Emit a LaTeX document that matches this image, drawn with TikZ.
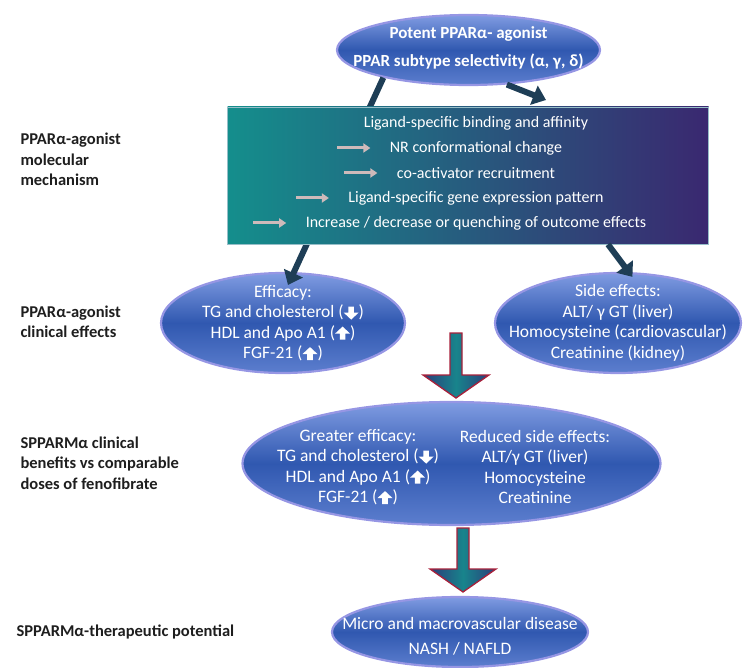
\documentclass[tikz,border=0pt]{standalone}
\usepackage{fontspec}
\setmainfont{Carlito}
\usetikzlibrary{arrows.meta,shapes.geometric,positioning}

\definecolor{bubtop}{RGB}{128,156,226}
\definecolor{bubmid}{RGB}{48,88,176}
\definecolor{bubbot}{RGB}{92,126,206}
\definecolor{bubrim}{RGB}{150,150,228}
\definecolor{mechL}{RGB}{20,142,140}
\definecolor{mechR}{RGB}{58,40,112}
\definecolor{arrdark}{RGB}{30,62,86}
\definecolor{arrgray}{RGB}{206,186,186}
\definecolor{blockrim}{RGB}{168,32,58}
\definecolor{blockmid}{RGB}{24,132,140}
\definecolor{blockedge}{RGB}{42,62,122}
\definecolor{labelgray}{RGB}{30,30,30}

% small white arrows inside the bubble texts
\newcommand{\dnmark}{\tikz[baseline=0pt,x=1pt,y=1pt]\fill[white] (-2.8,11)--(2.8,11)--(2.8,5)--(7.5,5)--(0,-2)--(-7.5,5)--(-2.8,5)--cycle;}
\newcommand{\upmark}{\tikz[baseline=0pt,x=1pt,y=1pt]\fill[white] (-2.8,-1.5)--(2.8,-1.5)--(2.8,4.5)--(7.5,4.5)--(0,11.5)--(-7.5,4.5)--(-2.8,4.5)--cycle;}
% big block arrow between the rows: x, top, tip
\newcommand{\bigdown}[3]{\draw[blockarrow] (#1-6,#2)--(#1+6,#2)--(#1+6,#3-23)--(#1+33,#3-23)--(#1,#3)--(#1-33,#3-23)--(#1-6,#3-23)--cycle;}

\begin{document}
\begin{tikzpicture}[x=1pt,y=-1pt,
bubble/.style={ellipse,draw=bubrim,line width=2.2pt,top color=bubtop,bottom color=bubbot,middle color=bubmid,inner sep=0pt},
bubtext/.style={text=white,align=center,font=\fontsize{17.5}{20.5}\selectfont},
sidelabel/.style={anchor=west,align=left,text=labelgray,font=\bfseries\fontsize{16.5}{20.5}\selectfont},
mechtext/.style={text=white,font=\fontsize{16}{18}\selectfont},
fatarrow/.style={draw=arrdark,line width=6pt,-{Triangle[length=13pt,width=20pt]}},
grayarrow/.style={draw=arrgray,line width=3pt,-{Triangle[length=7pt,width=9pt]}},
blockarrow/.style={draw=blockrim,line width=1.3pt,left color=blockedge,right color=blockedge,middle color=blockmid}]
\useasboundingbox (0,0) rectangle (744,668);

% row labels
\node[sidelabel] (lab1) at (17,159.5) {PPARα-agonist\\molecular\\mechanism};
\node[sidelabel] (lab2) at (17,322) {PPARα-agonist\\clinical effects};
\node[sidelabel] (lab3) at (17,463) {SPPARMα clinical\\benefits vs comparable\\doses of fenofibrate};
\node[sidelabel] (lab4) at (13,632) {SPPARMα-therapeutic potential};

% bubbles
\node[bubble,minimum width=263pt,minimum height=70pt] (top) at (468.5,50) {};
\node[bubtext,font=\bfseries\fontsize{17}{28}\selectfont] (toptxt) at ([yshift=2pt]top.center) {Potent PPARα- agonist\\PPAR subtype selectivity (α, γ, δ)};
\node[bubble,minimum width=244pt,minimum height=100pt] (eff) at (283,323) {};
\node[bubtext] (efftxt) at (eff) {Efficacy:\\TG and cholesterol (\dnmark)\\HDL and Apo A1 (\upmark)\\FGF-21 (\upmark)};
\node[bubble,minimum width=246pt,minimum height=100pt] (side) at (618,323) {};
\node[bubtext] (sidetxt) at (side) {Side effects:\\ALT/ γ GT (liver)\\Homocysteine (cardiovascular)\\Creatinine (kidney)};

% dark arrows, partly hidden by the mechanism box
\coordinate (efftip) at (288,285);
\coordinate (rtip) at (546,100);
\draw[fatarrow] (top.198) -- (efftip);
\draw[fatarrow] (top.318) -- (rtip);

% mechanism box
\node[draw={rgb,255:red,150;green,190;blue,200},line width=0.8pt,left color=mechL,right color=mechR,minimum width=481pt,minimum height=137pt,inner sep=0pt] (mech) at (468,175.5) {};
\node[mechtext] (m1) at (476,123) {Ligand-specific binding and affinity};
\node[mechtext] (m2) at (476,148) {NR conformational change};
\node[mechtext] (m3) at (476,173) {co-activator recruitment};
\node[mechtext] (m4) at (476,198) {Ligand-specific gene expression pattern};
\node[mechtext] (m5) at (476,223) {Increase / decrease or quenching of outcome effects};
\foreach \m in {m2,m3,m4,m5}
  \draw[grayarrow] ([xshift=-49pt]\m.west) -- ([xshift=-16pt]\m.west);
\draw[fatarrow,shorten >=-6pt] ([xshift=140pt]mech.south) -- (side.78);

% lower part
\bigdown{456}{333}{398}
\node[bubble,minimum width=418pt,minimum height=123pt] (mid) at (451.5,463.5) {};
\node[bubtext] (midl) at (358,467) {Greater efficacy:\\TG and cholesterol (\dnmark)\\HDL and Apo A1 (\upmark)\\FGF-21 (\upmark)};
\node[bubtext] (midr) at (535,467) {Reduced side effects:\\ALT/γ GT (liver)\\Homocysteine\\Creatinine};
\bigdown{463}{528}{592}
\node[bubble,minimum width=256pt,minimum height=70pt] (pot) at (460,632) {};
\node[bubtext,font=\fontsize{17.5}{25}\selectfont] (pottxt) at ([yshift=-4pt]pot.center) {Micro and macrovascular disease\\NASH / NAFLD};
\end{tikzpicture}
\end{document}
